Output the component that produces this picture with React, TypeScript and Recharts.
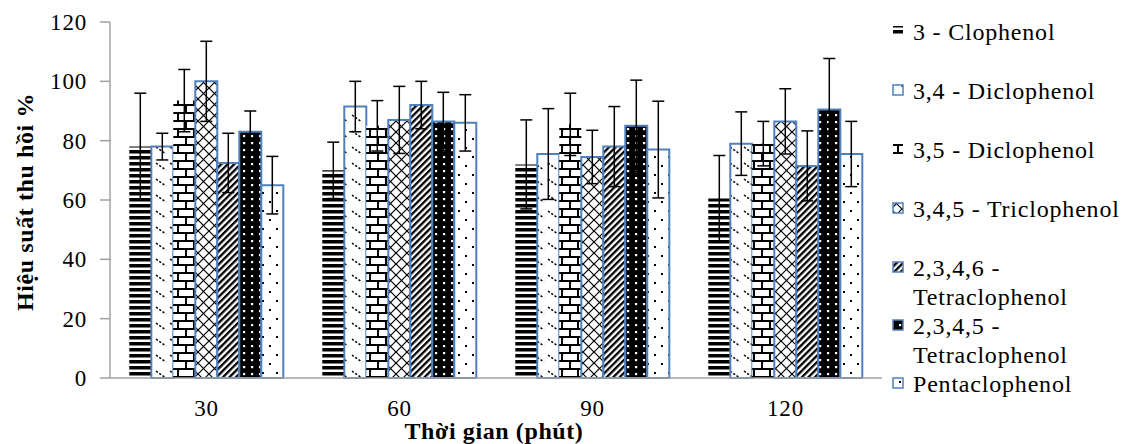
import React from "react";
import { Bar, BarChart, ErrorBar, XAxis, YAxis } from "recharts";

const categories = ["30", "60", "90", "120"];
const seriesNames = [
  "3 - Clophenol",
  "3,4 - Diclophenol",
  "3,5 - Diclophenol",
  "3,4,5 - Triclophenol",
  "2,3,4,6 - Tetraclophenol",
  "2,3,4,5 - Tetraclophenol",
  "Pentaclophenol",
];
const values = [
  [78, 70, 72, 60.5],
  [78, 91.5, 75.5, 79],
  [93.5, 85, 85.5, 79],
  [100, 87, 74.5, 86.5],
  [72.5, 92, 78, 71.5],
  [83, 86.5, 85, 90.5],
  [65, 86, 77, 75.5],
];
const errors = [
  [18, 9.5, 15, 14.5],
  [4.5, 8.5, 15.3, 10.7],
  [10.5, 8.5, 10.5, 7.5],
  [13.5, 11.3, 9, 11],
  [10, 8, 13.5, 11.8],
  [7, 9.8, 15.4, 17.2],
  [9.7, 9.5, 16.3, 11],
];
const yTicks = [0, 20, 40, 60, 80, 100, 120];

const FONT = "Liberation Serif, serif";
const BLUE = "#4f81bd";
const AXIS = "#a0a0a0";

const patternIds = ["pHStripe", "pDashDiag", "pBrick", "pTrellis", "pUpDiag", "pBlackDots", "pSparseDots"];
const hasBlueBorder = [false, true, false, true, true, true, true];

const data = categories.map((c, i) => {
  const row: Record<string, string | number> = { cat: c };
  values.forEach((v, s) => {
    row[`s${s}`] = v[i];
    row[`e${s}`] = errors[s][i];
  });
  return row;
});

// long names wrap after the dash, like the original legend
const legendLines = (name: string) =>
  name.length > 20 && name.includes(" - ") ? [name.split(" - ")[0] + " -", name.split(" - ")[1]] : [name];

function Patterns() {
  return (
    <svg width={0} height={0} style={{ position: "absolute" }}>
      <defs>
        <pattern id="pHStripe" width={8} height={6} patternUnits="userSpaceOnUse">
          <rect width={8} height={6} fill="#fff" />
          <rect width={8} height={3.5} fill="#000" />
        </pattern>
        <pattern id="pDashDiag" width={14} height={16} patternUnits="userSpaceOnUse">
          <rect width={14} height={16} fill="#fff" />
          <line x1={2} y1={3} x2={12} y2={10} stroke="#000" strokeWidth={1.5} strokeDasharray="2.2 1.8" />
        </pattern>
        <pattern id="pBrick" width={16} height={16} patternUnits="userSpaceOnUse">
          <rect width={16} height={16} fill="#fff" />
          <line x1={0} y1={1} x2={16} y2={1} stroke="#000" strokeWidth={2} />
          <line x1={0} y1={9} x2={16} y2={9} stroke="#000" strokeWidth={2} />
          <line x1={2} y1={1} x2={2} y2={9} stroke="#000" strokeWidth={2} />
          <line x1={10} y1={9} x2={10} y2={17} stroke="#000" strokeWidth={2} />
        </pattern>
        <pattern id="pTrellis" width={11} height={11} patternUnits="userSpaceOnUse">
          <rect width={11} height={11} fill="#fff" />
          <line x1={0} y1={0} x2={11} y2={11} stroke="#000" strokeWidth={1.2} />
          <line x1={11} y1={0} x2={0} y2={11} stroke="#000" strokeWidth={1.2} />
        </pattern>
        <pattern id="pUpDiag" width={4.6} height={4.6} patternUnits="userSpaceOnUse" patternTransform="rotate(45)">
          <rect width={4.6} height={4.6} fill="#fff" />
          <rect width={2.3} height={4.6} fill="#000" />
        </pattern>
        <pattern id="pBlackDots" width={8} height={7} patternUnits="userSpaceOnUse">
          <rect width={8} height={7} fill="#000" />
          <rect x={3} y={2} width={2.2} height={2.2} fill="#fff" />
        </pattern>
        <pattern id="pSparseDots" width={14} height={18} patternUnits="userSpaceOnUse">
          <rect width={14} height={18} fill="#fff" />
          <rect x={3} y={3} width={2} height={2} fill="#000" />
          <rect x={10} y={12} width={2} height={2} fill="#000" />
        </pattern>
      </defs>
    </svg>
  );
}

function LegendBox() {
  let y = 32;
  const items = seriesNames.map((name, i) => {
    const lines = legendLines(name);
    const top = y;
    y += lines.length * 29 + (i < 4 ? 30 : 0);
    return (
      <g key={name}>
        <rect
          x={893}
          y={top - 6}
          width={10}
          height={10}
          fill={`url(#${patternIds[i]})`}
          stroke={hasBlueBorder[i] ? BLUE : "none"}
          strokeWidth={1.5}
        />
        {lines.map((ln, k) => (
          <text
            key={k}
            x={913}
            y={top + k * 29 + 8}
            fontFamily={FONT}
            fontSize={24}
            letterSpacing={0.8}
            fill="#000"
          >
            {ln}
          </text>
        ))}
      </g>
    );
  });
  return <>{items}</>;
}

export default function App() {
  return (
    <div style={{ position: "absolute", left: 0, top: 0, width: 1126, height: 444, background: "#fff" }}>
      <Patterns />
      <BarChart
        width={1126}
        height={444}
        data={data}
        margin={{ top: 22, right: 244, bottom: 0, left: 0 }}
        barCategoryGap="10%"
        barGap={0}
      >
        <XAxis
          dataKey="cat"
          height={66}
          axisLine={{ stroke: AXIS, strokeWidth: 1.5 }}
          tickLine={false}
          tickSize={0}
          tickMargin={22}
          tick={{ fontSize: 23, fill: "#000", fontFamily: FONT, letterSpacing: 0.8 }}
        />
        <YAxis
          width={110}
          domain={[0, 120]}
          ticks={yTicks}
          axisLine={{ stroke: AXIS, strokeWidth: 1.5 }}
          tickLine={{ stroke: AXIS, strokeWidth: 1.5 }}
          tickSize={10}
          tickMargin={13}
          tick={{ fontSize: 23, fill: "#000", fontFamily: FONT, letterSpacing: 0.8 }}
        />
        {seriesNames.map((name, s) => (
          <Bar
            key={name}
            dataKey={`s${s}`}
            name={name}
            fill={`url(#${patternIds[s]})`}
            stroke={hasBlueBorder[s] ? BLUE : "none"}
            strokeWidth={2}
            isAnimationActive={false}
          >
            <ErrorBar dataKey={`e${s}`} width={6} stroke="#000" strokeWidth={1.5} direction="y" isAnimationActive={false} />
          </Bar>
        ))}
      </BarChart>
      <svg width={1126} height={444} style={{ position: "absolute", left: 0, top: 0, pointerEvents: "none" }}>
        <text
          x={33}
          y={202}
          transform="rotate(-90, 33, 202)"
          textAnchor="middle"
          fontFamily={FONT}
          fontWeight="bold"
          fontSize={24}
          letterSpacing={0.6}
        >
          Hiệu suất thu hồi %
        </text>
        <text x={494} y={439} textAnchor="middle" fontFamily={FONT} fontWeight="bold" fontSize={24} letterSpacing={0.6}>
          Thời gian (phút)
        </text>
        <LegendBox />
      </svg>
    </div>
  );
}
